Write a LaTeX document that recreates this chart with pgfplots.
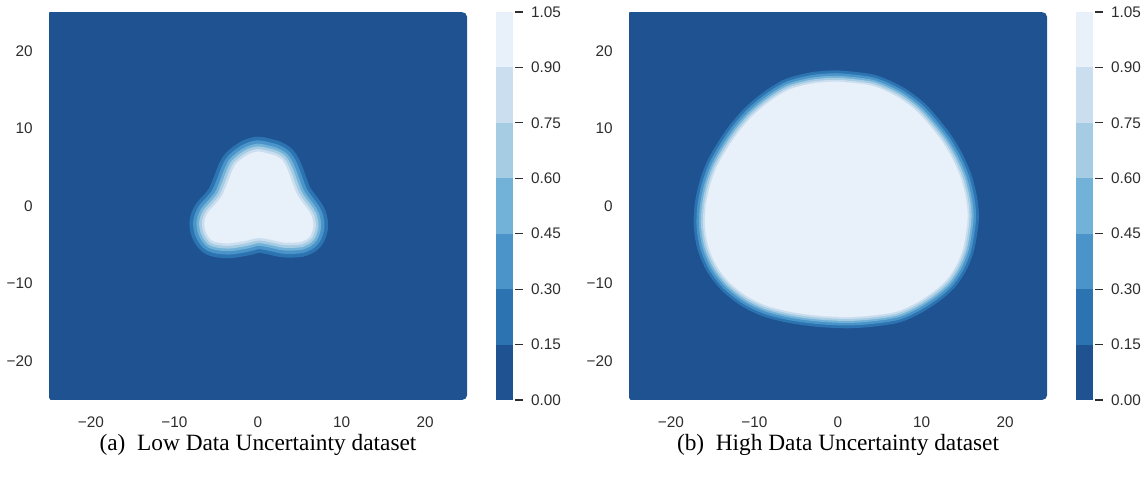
\documentclass[border=0pt]{standalone}
\usepackage{pgfplots}
\pgfplotsset{compat=1.18}
\usepackage{pgfplotstable}
\usepackage{fontspec}
\setmainfont{Liberation Serif}
\newfontfamily\sansf{Liberation Sans}
\definecolor{c0}{RGB}{31,82,144}
\definecolor{c1}{RGB}{44,115,178}
\definecolor{c2}{RGB}{74,148,201}
\definecolor{c3}{RGB}{114,178,216}
\definecolor{c4}{RGB}{165,204,227}
\definecolor{c5}{RGB}{203,222,240}
\definecolor{c6}{RGB}{232,241,250}
\definecolor{tickgray}{RGB}{45,45,45}

\pgfplotstableread{
x y
0 7.0
1.0 6.8
2.0 6.5
2.8 6.0
3.3 5.2
3.7 4.2
4.1 3.0
4.6 1.6
5.2 0.6
5.9 -0.4
6.4 -1.3
6.6 -2.6
6.2 -3.9
5.2 -4.6
3.2 -4.7
1.4 -4.3
0 -4.1
-1.6 -4.5
-3.6 -4.8
-5.4 -4.5
-6.2 -3.4
-6.4 -2.1
-6.0 -0.9
-5.1 0.2
-4.3 1.3
-3.7 2.8
-3.2 4.2
-2.7 5.3
-1.9 6.1
-1.0 6.7
0 7.0
1.0 6.8
}\blobA

\pgfplotstableread{
x y
0.2 16.0
4.0 15.5
7.0 14.1
9.3 12.3
11.0 10.3
12.5 8.2
13.7 6.0
14.7 3.5
15.3 0.9
15.5 -1.3
15.3 -3.4
14.9 -5.6
14.1 -7.7
12.9 -9.6
11.3 -11.1
9.3 -12.5
7.0 -13.6
4.0 -14.1
1.0 -14.3
-2.5 -14.1
-5.8 -13.6
-8.6 -12.8
-10.9 -11.6
-13.0 -9.8
-14.5 -7.7
-15.5 -5.2
-15.9 -2.6
-15.8 0.0
-15.3 2.6
-14.5 5.0
-13.3 7.3
-11.9 9.5
-10.2 11.6
-8.1 13.5
-5.8 15.0
-2.9 15.8
0.2 16.0
4.0 15.5
}\blobB

\pgfplotstableread{
x y
-24.8 -25
24.4 -25
24.85 -24.8
25 -24.4
25 24.4
24.8 24.85
24.3 25
-24.9 25
-25 24.9
-25 -24.7
}\frameR

\pgfplotsset{
  mainax/.style={
    anchor=south west, width=313.5pt, height=291pt, scale only axis,
    xmin=-25, xmax=25, ymin=-25, ymax=25,
    axis line style={draw=none}, tick style={draw=none}, major tick length=0pt,
    xtick={-20,-10,0,10,20}, xticklabels={−20,−10,0,10,20},
    ytick={-20,-10,0,10,20}, yticklabels={−20,−10,0,10,20},
    ticklabel style={font=\sansf\fontsize{11.5}{13}\selectfont, text=tickgray, inner sep=0pt},
    xticklabel shift=12.5pt, yticklabel shift=12pt,
  },
  cbax/.style={
    anchor=south west, width=14.25pt, height=291pt, scale only axis,
    xmin=0, xmax=1.118, ymin=0, ymax=1.05,
    axis line style={draw=none}, xtick=\empty,
    ytick={0,0.15,0.3,0.45,0.6,0.75,0.9,1.05},
    yticklabels={0.00,0.15,0.30,0.45,0.60,0.75,0.90,1.05},
    ytick pos=right, yticklabel pos=right, tick align=outside,
    major tick length=5.8pt, tick style={draw=tickgray, line width=0.9pt},
    yticklabel style={font=\sansf\fontsize{11.5}{13}\selectfont, text=tickgray, inner sep=0pt, anchor=west},
    yticklabel shift=6pt,
  },
  band/.style={draw=#1, fill=#1, line join=round, line cap=round, no markers, smooth, tension=0.5},
}

\newcommand{\colbar}{%
  \addplot[fill=c0, draw=none] coordinates {(0,0) (1,0) (1,0.15) (0,0.15)} --cycle;
  \addplot[fill=c1, draw=none] coordinates {(0,0.15) (1,0.15) (1,0.30) (0,0.30)} --cycle;
  \addplot[fill=c2, draw=none] coordinates {(0,0.30) (1,0.30) (1,0.45) (0,0.45)} --cycle;
  \addplot[fill=c3, draw=none] coordinates {(0,0.45) (1,0.45) (1,0.60) (0,0.60)} --cycle;
  \addplot[fill=c4, draw=none] coordinates {(0,0.60) (1,0.60) (1,0.75) (0,0.75)} --cycle;
  \addplot[fill=c5, draw=none] coordinates {(0,0.75) (1,0.75) (1,0.90) (0,0.90)} --cycle;
  \addplot[fill=c6, draw=none] coordinates {(0,0.90) (1,0.90) (1,1.05) (0,1.05)} --cycle;
}

\begin{document}
\begin{tikzpicture}
\path[use as bounding box] (0,0) rectangle (860.25pt,366.75pt);

% Panel (a)
\begin{axis}[mainax, at={(36.75pt,66.75pt)}]
  \addplot[fill=c0, draw=none] table {\frameR} --cycle;
  \addplot[band=c1, line width=22.5pt] table {\blobA};
  \addplot[band=c2, line width=17pt] table {\blobA};
  \addplot[band=c3, line width=12pt] table {\blobA};
  \addplot[band=c4, line width=8pt] table {\blobA};
  \addplot[band=c5, line width=4pt] table {\blobA};
  \addplot[band=c6, line width=0.1pt] table {\blobA};
\end{axis}
\begin{axis}[cbax, at={(372pt,66.75pt)}]
  \colbar
\end{axis}

% Panel (b)
\begin{axis}[mainax, at={(471.75pt,66.75pt)}]
  \addplot[fill=c0, draw=none] table {\frameR} --cycle;
  \addplot[band=c1, line width=17pt] table {\blobB};
  \addplot[band=c2, line width=12.8pt] table {\blobB};
  \addplot[band=c3, line width=9pt] table {\blobB};
  \addplot[band=c4, line width=6pt] table {\blobB};
  \addplot[band=c5, line width=3pt] table {\blobB};
  \addplot[band=c6, line width=0.1pt] table {\blobB};
\end{axis}
\begin{axis}[cbax, at={(807pt,66.75pt)}]
  \colbar
\end{axis}

\node[anchor=base, font=\fontsize{17.5}{20}\selectfont] at (193.5pt,28.5pt) {(a)\hspace{0.5em}Low Data Uncertainty dataset};
\node[anchor=base, font=\fontsize{17.5}{20}\selectfont] at (628.5pt,28.5pt) {(b)\hspace{0.5em}High Data Uncertainty dataset};
\end{tikzpicture}
\end{document}
